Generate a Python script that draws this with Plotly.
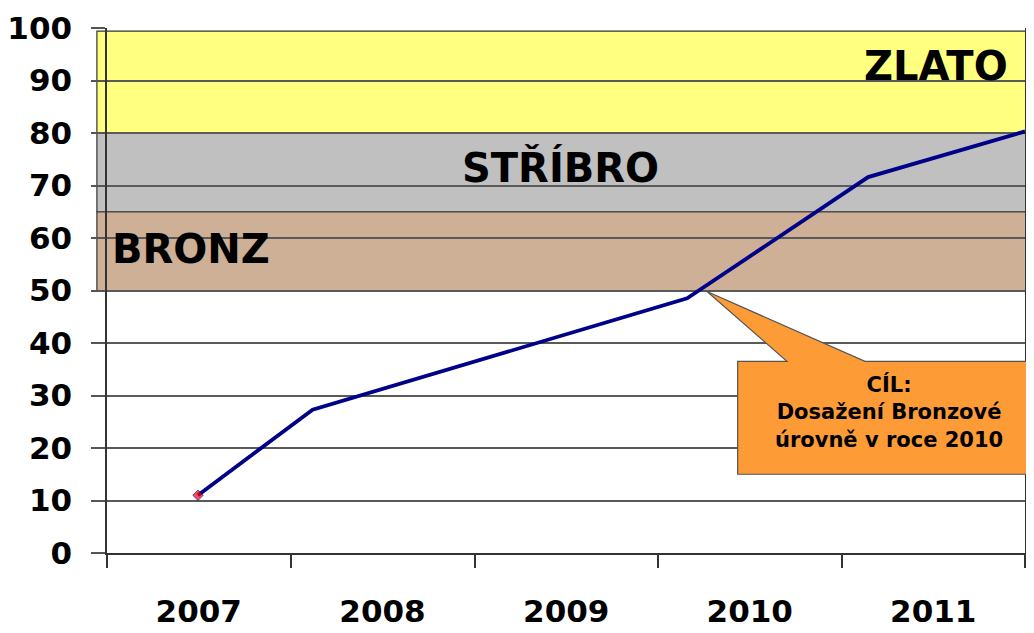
import plotly.graph_objects as go

# ---- data ----
dates = ["2007-07-01", "2008-02-14", "2010-02-28", "2011-02-23", "2012-01-01"]
values = [11, 27.3, 48.5, 71.6, 80.3]
marker_sizes = [8, 0, 0, 0, 0]

bands = [  # (label, low, high, colour)
    ("BRONZ", 50, 65, "#CDB096"),
    ("STŘÍBRO", 65, 80, "#C0C0C0"),
    ("ZLATO", 80, 99.4, "#FFFF80"),
]
callout_text = "CÍL:<br>Dosažení Bronzové<br>úrovně v roce 2010"

FONT = "DejaVu Sans"

fig = go.Figure()
fig.add_trace(go.Scatter(
    x=dates, y=values, mode="lines+markers",
    line=dict(color="#000088", width=3.8),
    marker=dict(size=marker_sizes, color="#FF0000", symbol="diamond"),
    hoverinfo="skip", showlegend=False,
))

shapes = []
for name, lo, hi, col in bands:
    shapes.append(dict(type="rect", xref="paper", yref="y", x0=-0.011, x1=1.001,
                       y0=lo, y1=hi, fillcolor=col, line=dict(color="#333333", width=1.2),
                       layer="below"))

# callout (paper coords)
bl, br, bt, bb = 0.687, 1.012, 0.365, 0.150
tx, ty = 0.6536, 0.498
path = (f"M {bl},{bt} L 0.7407,{bt} L {tx},{ty} L 0.8257,{bt} L {br},{bt} "
        f"L {br},{bb} L {bl},{bb} Z")
shapes.append(dict(type="path", xref="paper", yref="paper", path=path,
                   fillcolor="#FD9B37", line=dict(color="#555555", width=1.2),
                   layer="above"))

annotations = [
    dict(text="ZLATO", xref="paper", yref="y", x=0.984, y=92.7, xanchor="right",
         yanchor="middle", showarrow=False,
         font=dict(family=FONT, size=40, color="black", weight="bold")),
    dict(text="STŘÍBRO", xref="paper", yref="y", x=(560 - 107) / 918, y=73.5, xanchor="center",
         yanchor="middle", showarrow=False,
         font=dict(family=FONT, size=40, color="black", weight="bold")),
    dict(text="BRONZ", xref="paper", yref="y", x=0.003, y=58.0, xanchor="left",
         yanchor="middle", showarrow=False,
         font=dict(family=FONT, size=40, color="black", weight="bold")),
    dict(text=callout_text, xref="paper", yref="paper", x=0.852, y=0.268,
         xanchor="center", yanchor="middle", showarrow=False, align="center",
         font=dict(family=FONT, size=21, color="black", weight="bold")),
]

# page body has an 8px margin, so the figure is offset by 8px
fig.update_layout(
    width=1026, height=625,
    margin=dict(l=99, r=9, t=20, b=80, autoexpand=False),
    paper_bgcolor="white", plot_bgcolor="rgba(0,0,0,0)",
    shapes=shapes, annotations=annotations,
    hovermode=False,
)
fig.update_xaxes(
    type="date", range=["2007-01-01", "2012-01-01"], automargin=False,
    tick0="2007-01-01", dtick="M12", tickformat="%Y", ticklabelmode="period",
    ticks="outside", ticklen=13, tickcolor="#333333", tickwidth=1.5,
    showgrid=False, zeroline=False,
    showline=True, linecolor="#333333", linewidth=1.5,
    tickfont=dict(family=FONT, size=31, color="black", weight="bold"),
    ticklabelstandoff=17,
)
fig.update_yaxes(
    range=[0, 100], tickvals=list(range(0, 101, 10)), automargin=False,
    ticks="outside", ticklen=14, tickcolor="#555555", tickwidth=1.5,
    showgrid=True, gridcolor="#5a5a5a", gridwidth=1.5,
    zeroline=False, showline=True, linecolor="#333333", linewidth=1.5, mirror=True,
    tickfont=dict(family=FONT, size=31, color="black", weight="bold"),
    ticklabelstandoff=13,
)

fig.write_html("out.html")
